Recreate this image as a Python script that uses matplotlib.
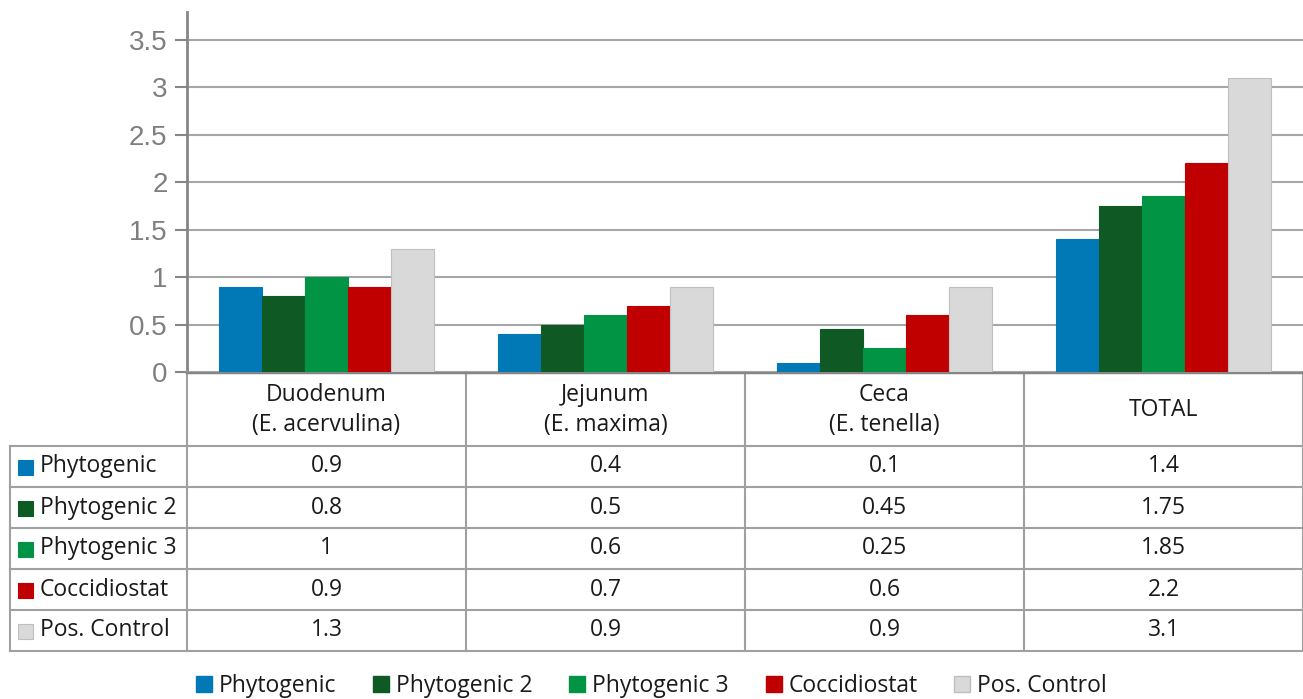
import numpy as np
import matplotlib
matplotlib.use('Agg')
import matplotlib.pyplot as plt
from matplotlib.patches import Patch

# data
categories = ['Duodenum\n(E. acervulina)', 'Jejunum\n(E. maxima)', 'Ceca\n(E. tenella)', 'TOTAL']
series = ['Phytogenic', 'Phytogenic 2', 'Phytogenic 3', 'Coccidiostat', 'Pos. Control']
phytogenic = [0.9, 0.4, 0.1, 1.4]
phytogenic2 = [0.8, 0.5, 0.45, 1.75]
phytogenic3 = [1, 0.6, 0.25, 1.85]
coccidiostat = [0.9, 0.7, 0.6, 2.2]
pos_control = [1.3, 0.9, 0.9, 3.1]
values = [phytogenic, phytogenic2, phytogenic3, coccidiostat, pos_control]
labels_txt = [['0.9', '0.4', '0.1', '1.4'],
              ['0.8', '0.5', '0.45', '1.75'],
              ['1', '0.6', '0.25', '1.85'],
              ['0.9', '0.7', '0.6', '2.2'],
              ['1.3', '0.9', '0.9', '3.1']]
yticks = [0, 0.5, 1, 1.5, 2, 2.5, 3, 3.5]

colors = ['#0079B6', '#0F5A24', '#009444', '#C00000', '#D9D9D9']
edges = ['#0079B6', '#0F5A24', '#009444', '#C00000', '#BFBFBF']
grid_c = '#A6A6A6'
W, H = 1303, 699

fig = plt.figure(figsize=(W / 100, H / 100), dpi=100)

def px(x0, y0, x1, y1):
    return [x0 / W, 1 - y1 / H, (x1 - x0) / W, (y1 - y0) / H]

ax = fig.add_axes(px(187, 12, 1303, 372))
n = len(categories)
x = np.arange(n)
bw = 0.77 / len(series)
for i, (vals, c, e) in enumerate(zip(values, colors, edges)):
    ax.bar(x - 0.385 + bw * (i + 0.5), vals, width=bw, color=c, edgecolor=e, linewidth=0.8, zorder=3)
ax.set_xlim(-0.5, n - 0.5)
ax.set_ylim(0, 3.79)
ax.set_yticks(yticks)
ax.set_yticklabels(['%g' % t for t in yticks], fontsize=20, color='#7F7F7F', family='Liberation Sans')
ax.yaxis.grid(True, color=grid_c, linewidth=1.5, zorder=0)
ax.set_xticks([])
for s in ['top', 'right', 'bottom']:
    ax.spines[s].set_visible(False)
ax.spines['left'].set_color('#868686')
ax.spines['left'].set_linewidth(2)
ax.tick_params(axis='y', length=9, width=1.5, color='#868686', pad=5)

# data table
tx = fig.add_axes(px(0, 372, 1303, 660))
tx.set_xlim(0, W)
tx.set_ylim(660, 372)
tx.axis('off')
col_x = [187, 466, 745, 1024, 1303]
row_y = [372, 446, 487, 528, 569, 610, 651]
lc = '#A0A0A0'
lw = 1.5
tfont = dict(family='Open Sans', fontsize=16.5, color='#1A1A1A')
for cx in col_x:
    tx.plot([cx, cx], [row_y[0], row_y[-1]], color=lc, lw=lw, clip_on=False)
tx.plot([10, 10], [row_y[1], row_y[-1]], color=lc, lw=lw)
tx.plot([187, 1303], [row_y[0], row_y[0]], color='#868686', lw=2.5)
for ry in row_y[1:]:
    tx.plot([10, 1303], [ry, ry], color=lc, lw=lw)
for j, cat in enumerate(categories):
    tx.text((col_x[j] + col_x[j + 1]) / 2, (row_y[0] + row_y[1]) / 2 + 1, cat,
            ha='center', va='center', linespacing=1.3, **tfont)
for i, s in enumerate(series):
    yc = (row_y[i + 1] + row_y[i + 2]) / 2
    tx.add_patch(plt.Rectangle((18, yc - 7), 15, 15, facecolor=colors[i], edgecolor=edges[i], lw=0.8))
    tx.text(40, yc, s, ha='left', va='center', **tfont)
    for j in range(n):
        tx.text((col_x[j] + col_x[j + 1]) / 2, yc, labels_txt[i][j], ha='center', va='center', **tfont)

handles = [Patch(facecolor=c, edgecolor=e) for c, e in zip(colors, edges)]
fig.legend(handles, series, loc='center', bbox_to_anchor=(0.5, 1 - 686 / H), ncol=5, frameon=False,
           prop={'family': 'Open Sans', 'size': 16.5},
           handlelength=0.7, handleheight=0.7, handletextpad=0.3, columnspacing=1.6,
           labelcolor='#1A1A1A')

fig.savefig('out.png', dpi=100)
